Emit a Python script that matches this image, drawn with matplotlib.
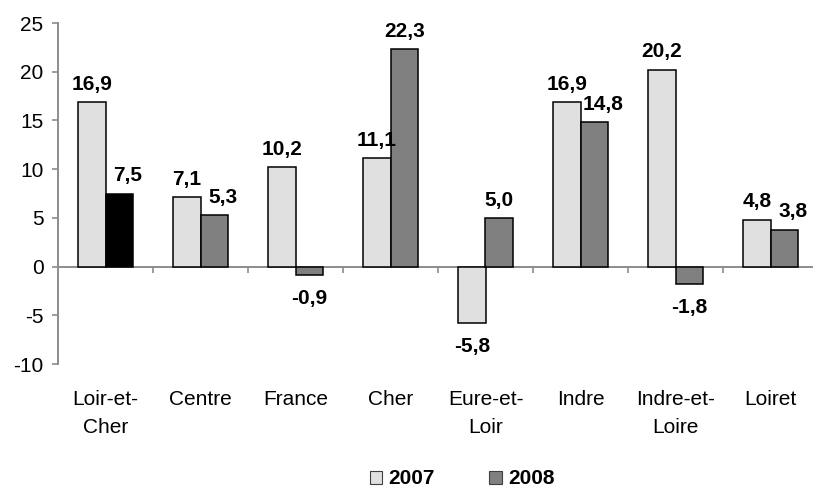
import matplotlib.pyplot as plt
from matplotlib.patches import Patch
import numpy as np

plt.rcParams['font.family'] = ['Liberation Sans', 'DejaVu Sans']
plt.rcParams['axes.unicode_minus'] = False

categories = ['Loir-et-\nCher', 'Centre', 'France', 'Cher', 'Eure-et-\nLoir',
              'Indre', 'Indre-et-\nLoire', 'Loiret']
v2007 = [16.9, 7.1, 10.2, 11.1, -5.8, 16.9, 20.2, 4.8]
v2008 = [7.5, 5.3, -0.9, 22.3, 5.0, 14.8, -1.8, 3.8]

c2007 = '#e0e0e0'
c2008 = '#808080'
axis_grey = '#8c8c8c'

fig = plt.figure(figsize=(8.13, 4.88), dpi=100)
ax = fig.add_axes([58 / 813, 124 / 488, 760 / 813, 341 / 488])

x = np.arange(len(categories))
w = 0.29
colors2008 = [c2008] * len(categories)
colors2008[0] = '#000000'  # highlight the département itself

b1 = ax.bar(x - w / 2, v2007, w, color=c2007, edgecolor='black', linewidth=1.1, zorder=3)
b2 = ax.bar(x + w / 2, v2008, w, color=colors2008, edgecolor='black', linewidth=1.1, zorder=3)

def fmt(v):
    return f'{v:.1f}'.replace('.', ',')

def label(bar, v, dx=0):
    cx = bar.get_x() + bar.get_width() / 2
    if v >= 0:
        ax.annotate(fmt(v), (cx, v), xytext=(dx, 6), textcoords='offset points',
                    ha='center', va='bottom', fontsize=15, fontweight='bold')
    else:
        ax.annotate(fmt(v), (cx, v), xytext=(dx, -10), textcoords='offset points',
                    ha='center', va='top', fontsize=15, fontweight='bold')

for bar, v in zip(b1, v2007):
    label(bar, v)
# a 2008 label sitting next to a taller 2007 bar is pushed to the right
for bar, v, prev in zip(b2, v2008, v2007):
    label(bar, v, 6 if 0 <= v < prev else 0)

ax.set_xlim(-0.5, len(categories) - 0.5)
ax.set_ylim(-10, 25)
ax.set_yticks(range(-10, 26, 5))

for s in ('top', 'right'):
    ax.spines[s].set_visible(False)
ax.spines['bottom'].set_position(('data', 0))
ax.spines['bottom'].set_color(axis_grey)
ax.spines['bottom'].set_linewidth(1.4)
ax.spines['left'].set_color(axis_grey)
ax.spines['left'].set_linewidth(1.4)

ax.set_xticks([])
ax.set_xticks(np.arange(0.5, len(categories) - 0.5, 1), minor=True)
ax.tick_params(axis='x', which='minor', direction='out', length=4.5, width=1.2,
               color=axis_grey, labelbottom=False)
ax.tick_params(axis='y', direction='out', length=4.5, width=1.2, color=axis_grey,
               labelsize=15, pad=6)

for xi, name in zip(x, categories):
    ax.text(xi, -0.075, name, transform=ax.get_xaxis_transform(), ha='center', va='top',
            fontsize=15, linespacing=1.65)

handles = [Patch(facecolor=c2007, edgecolor='#404040', linewidth=0.8, label='2007'),
           Patch(facecolor=c2008, edgecolor='#404040', linewidth=0.8, label='2008')]
fig.legend(handles=handles, loc='center', bbox_to_anchor=(462 / 813, 1 - 479 / 488),
           ncol=2, frameon=False, handlelength=0.6, handleheight=0.6, handletextpad=0.3,
           columnspacing=2.6, prop={'weight': 'bold', 'size': 15})

fig.savefig('out.png', dpi=100)
